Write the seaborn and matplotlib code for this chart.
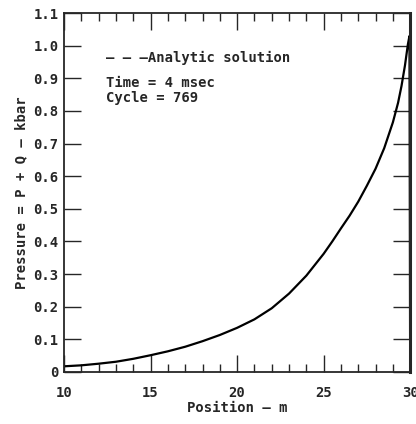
import numpy as np
import pandas as pd
import seaborn as sns
import matplotlib.pyplot as plt
from matplotlib.ticker import MultipleLocator, FixedLocator

# Pressure profile (position in m, pressure in kbar)
position = [10, 11, 12, 13, 14, 15, 16, 17, 18, 19, 20, 21, 22, 23, 24, 25,
            25.5, 26, 26.5, 27, 27.5, 28, 28.5, 29, 29.3, 29.5, 29.7, 29.87,
            29.96, 30.0]
pressure = [0.017, 0.020, 0.025, 0.031, 0.040, 0.051, 0.063, 0.077, 0.094, 0.113,
            0.135, 0.161, 0.195, 0.240, 0.295, 0.362, 0.400, 0.440, 0.479, 0.522,
            0.571, 0.623, 0.686, 0.765, 0.825, 0.877, 0.940, 1.005, 1.03, 0.0]

x_ticks = [10, 15, 20, 25, 30]
y_ticks = [0, 0.1, 0.2, 0.3, 0.4, 0.5, 0.6, 0.7, 0.8, 0.9, 1.0, 1.1]
y_labels = ['0', '0.1', '0.2', '0.3', '0.4', '0.5', '0.6', '0.7', '0.8', '0.9', '1.0', '1.1']

df = pd.DataFrame({'Position': position, 'Pressure': pressure})

sns.set_style('ticks')
plt.rcParams['font.family'] = ['DejaVu Sans Mono']
plt.rcParams['font.weight'] = 'bold'
plt.rcParams['axes.labelweight'] = 'bold'

fig = plt.figure(figsize=(4.16, 4.24), dpi=100)
ax = fig.add_axes([0.154, 0.123, 0.832, 0.846])

sns.lineplot(data=df, x='Position', y='Pressure', color='black', linewidth=1.6, ax=ax)

ax.set_xlim(10, 30)
ax.set_ylim(0, 1.1)
ax.xaxis.set_major_locator(FixedLocator(x_ticks))
ax.xaxis.set_minor_locator(MultipleLocator(1))
ax.set_yticks(y_ticks)
ax.set_yticklabels(y_labels)

ax.tick_params(axis='both', which='major', direction='in', length=12, width=1,
               top=True, right=True, labelsize=10, pad=4)
ax.tick_params(axis='x', which='major', pad=10)
ax.tick_params(axis='x', which='minor', direction='in', length=6, width=1, top=True)
for side in ['left', 'bottom', 'top']:
    ax.spines[side].set_linewidth(1.3)
ax.spines['right'].set_linewidth(2.2)

ax.set_xlabel('Position \u2014 m', fontsize=10, labelpad=1)
ax.set_ylabel('Pressure = P + Q \u2014 kbar', fontsize=10)

ax.text(0.12, 0.876, '\u2013 \u2013 \u2013Analytic solution', transform=ax.transAxes,
        fontsize=10, va='center')
ax.text(0.12, 0.805, 'Time = 4 msec', transform=ax.transAxes, fontsize=10, va='center')
ax.text(0.12, 0.763, 'Cycle = 769', transform=ax.transAxes, fontsize=10, va='center')

plt.savefig('out.png', dpi=100)
